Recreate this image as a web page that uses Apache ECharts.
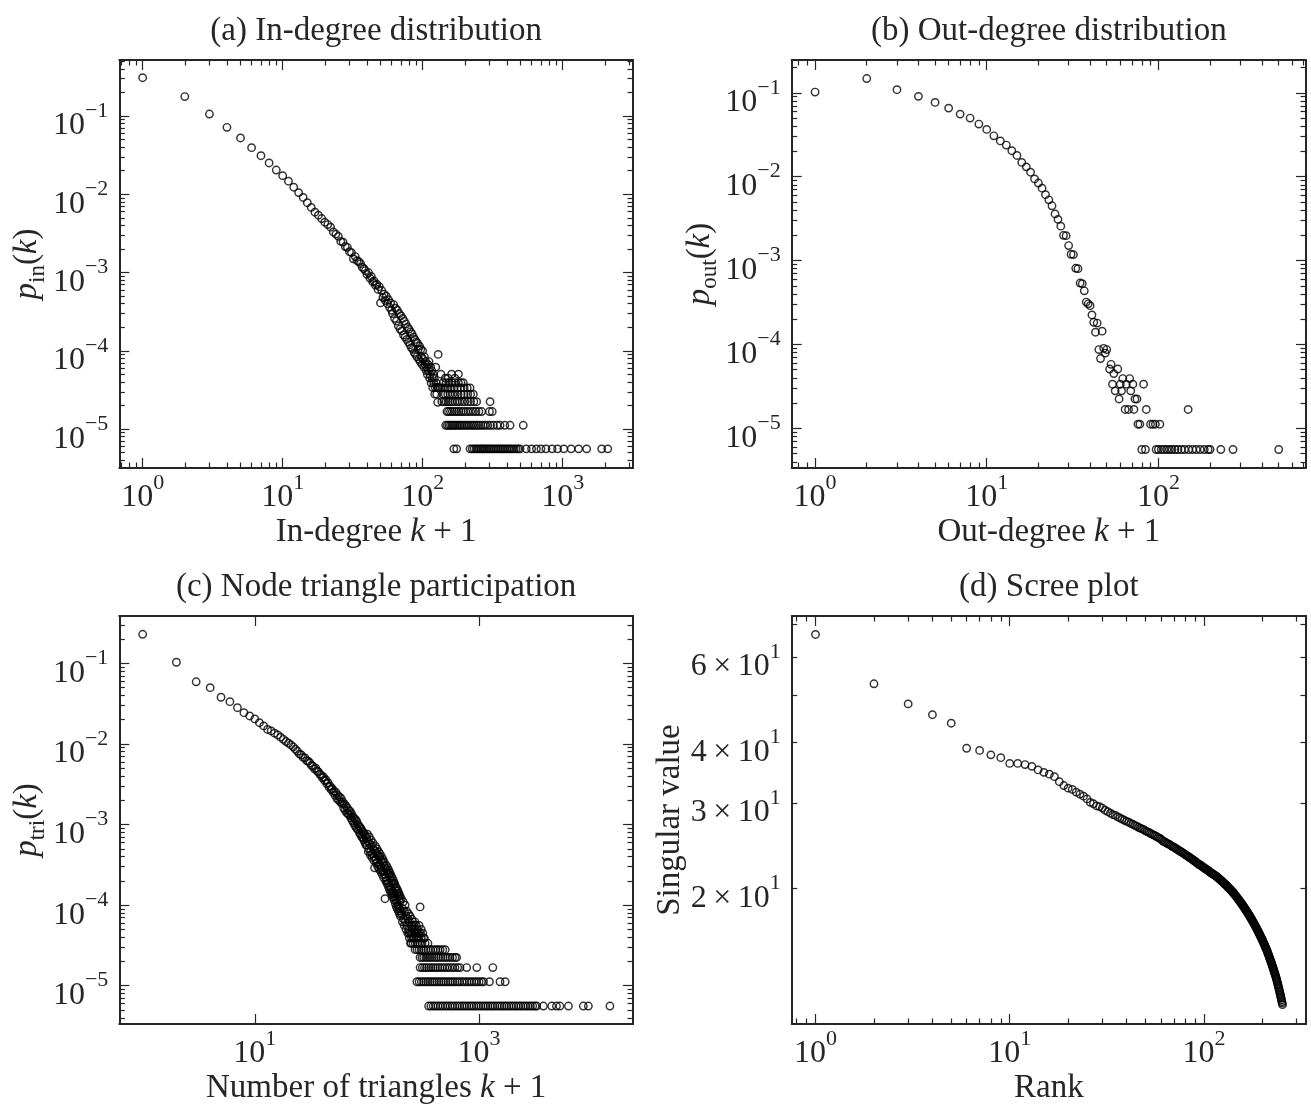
<!DOCTYPE html>
<html>
<head>
<meta charset="utf-8">
<title>Degree, triangle and scree plots</title>
<script src="https://cdn.jsdelivr.net/npm/echarts@6/dist/echarts.min.js"></script>
<style>
  html, body { margin: 0; padding: 0; background: #fff; }
  #chart { width: 1311px; height: 1110px; }
</style>
</head>
<body>
<div id="chart"></div>
<script>
// ---------- (a) in-degree distribution: p_in for k+1 = 1, 2, 3, ...
const inHeadP = [
  0.308, 0.177, 0.106, 0.0716, 0.0524, 0.0394, 0.0311, 0.0251, 0.0204, 0.0173,
  0.0147, 0.0123, 0.0105, 0.0091, 0.0078, 0.0068, 0.0059, 0.0054, 0.0049, 0.0044,
  0.0041, 0.0038, 0.0033, 0.0031, 0.0029, 0.0025, 0.00245, 0.00215, 0.0021, 0.00185,
  0.0018, 0.0015, 0.0016, 0.00142, 0.00138, 0.0013, 0.00117, 0.00112, 0.00106, 0.00095,
  0.001, 0.00085, 0.00089, 0.00076, 0.00078, 0.00069, 0.00071, 0.00061, 0.00066, 0.00041,
  0.00059, 0.00048, 0.00053, 0.00044, 0.0005, 0.0004, 0.00045, 0.00036, 0.00041, 0.00033,
  0.0003, 0.00039, 0.00026, 0.00035, 0.00024, 0.00033, 0.00021, 0.0003, 0.00019, 0.00028,
  0.00018, 0.00026, 0.00016, 0.00024, 0.00015, 0.00022, 0.00014, 0.0002, 0.00013, 0.00019,
  0.00012, 0.000175, 0.00011, 0.000165, 0.000105, 0.00015, 0.000095, 0.00014, 0.00009, 0.00013,
  0.000084, 0.000125, 0.000105, 0.000078, 0.000115, 0.000073, 0.000105, 0.000084, 0.000067, 0.0001,
  7.8e-5, 6.2e-5, 8.4e-5, 6.7e-5, 7.3e-5, 5.6e-5, 6.2e-5, 5.0e-5, 6.7e-5, 5.6e-5,
  7.3e-5, 4.5e-5, 5.0e-5, 6.2e-5, 3.9e-5, 5.6e-5, 4.5e-5, 3.4e-5, 5.0e-5, 3.9e-5,
  4.5e-5, 2.8e-5, 3.4e-5, 6.2e-5, 3.9e-5, 2.8e-5, 3.4e-5, 2.2e-5, 9.0e-5, 3.4e-5
];
// tail: the same few counts (1, 2, 3 ... nodes) repeat, so the points sit on levels
const inLevels = [5.6e-6, 1.12e-5, 1.68e-5, 2.24e-5, 2.8e-5, 3.36e-5, 3.92e-5, 4.48e-5, 5.04e-5];
const inLevelK = [
  [167, 175, 218, 226, 233, 241, 248, 255, 262, 268, 275, 282, 290, 298, 306, 315, 325, 335, 345, 355,
   365, 375, 385, 397, 410, 422, 435, 450, 465, 480, 496, 549, 600, 650, 700, 760, 840, 920, 1020,
   1150, 1300, 1484, 1900, 2100],
  [146, 150, 154, 158, 162, 166, 170, 175, 180, 185, 190, 196, 202, 208, 214, 221, 228, 235, 243, 251,
   260, 270, 280, 292, 305, 320, 340, 357, 386, 421, 523],
  [149, 153, 158, 163, 169, 175, 181, 188, 195, 203, 211, 220, 230, 240, 252, 264, 300, 314],
  [137, 142, 147, 152, 157, 163, 170, 177, 184, 192, 200, 210, 220, 232, 243, 303],
  [140, 145, 151, 157, 164, 171, 179, 188, 198, 210, 220, 230],
  [129, 134, 139, 145, 152, 160, 168, 177, 187, 198, 208, 218],
  [140, 147, 154, 162, 170, 180, 188, 195],
  [145, 152, 170],
  [135, 161, 180]
];

// ---------- (b) out-degree distribution
const outHeadP = [
  0.102, 0.148, 0.109, 0.0907, 0.0768, 0.0657, 0.0557, 0.050, 0.0424, 0.0366,
  0.0307, 0.0267, 0.0238, 0.0204, 0.0179, 0.0148, 0.0131, 0.0113, 0.0094, 0.0084,
  0.0073, 0.0061, 0.0053, 0.0045, 0.0036, 0.0031, 0.00257, 0.0020, 0.00198, 0.00151,
  0.00119, 0.00118, 0.00081, 0.0008, 0.00054, 0.00053, 0.000436, 0.00032, 0.000305, 0.00029,
  0.000225, 0.000184, 0.00014, 0.00018, 0.000087, 0.000068, 0.000144, 0.00009, 0.000079, 0.000087
];
const outMidK = [52, 53, 55, 58];
const outMidP = [5.1e-5, 5.8e-5, 4.5e-5, 5.1e-5];
const outLevels = [5.6e-6, 1.12e-5, 1.68e-5, 2.24e-5, 2.8e-5, 3.36e-5, 3.92e-5];
const outLevelK = [
  [80, 84, 97, 100, 104, 108, 112, 116, 120, 125, 130, 136, 142, 150, 158, 166, 175, 185, 195, 200, 231, 272, 502],
  [76, 78, 90, 93, 96, 102],
  [64, 67, 72, 85, 149],
  [59, 73, 75],
  [56, 61, 69],
  [54, 60, 65, 71, 82],
  [62, 68]
];

// ---------- (c) node triangle participation
const triHeadP = [
  0.229, 0.103, 0.059, 0.0498, 0.0379, 0.0334, 0.0281, 0.0244, 0.0222, 0.0204,
  0.0183, 0.0167, 0.0151, 0.0145, 0.0136, 0.0129, 0.0121, 0.0114, 0.0107, 0.0102,
  0.0097, 0.0092, 0.0086, 0.0081, 0.0075, 0.0073, 0.0068, 0.0067, 0.0062, 0.0061,
  0.0058, 0.0054, 0.0053, 0.0049, 0.0050, 0.0046, 0.0045, 0.0042, 0.0041, 0.0038,
  0.0039, 0.0035, 0.0036, 0.0032, 0.0033, 0.0029, 0.0030, 0.0027, 0.0028, 0.0025,
  0.0026, 0.0023, 0.0025, 0.0021, 0.0023, 0.0020, 0.0022, 0.0019, 0.0021, 0.0018,
  0.0019, 0.0016, 0.0018, 0.0015, 0.0017, 0.0014, 0.0016, 0.00135, 0.0015, 0.0013,
  0.00145, 0.0012, 0.00135, 0.00112, 0.00125, 0.00105, 0.0012, 0.00098, 0.00115, 0.00092,
  0.0011, 0.00088, 0.00101, 0.00085, 0.00096, 0.00078, 0.00092, 0.00075, 0.00088, 0.0007,
  0.00082, 0.00068, 0.0008, 0.00064, 0.00076, 0.0006, 0.00072, 0.00056, 0.00068, 0.00055
];
const triMidK = [
  102, 104, 106, 108, 110, 112, 114, 116, 117, 118, 120, 122, 124, 126, 128, 130, 132, 134, 136, 138,
  140, 142, 144, 145, 146, 148, 150, 152, 154, 156, 158, 160, 162, 164, 166, 168, 170, 172, 174, 176,
  178, 180, 182, 184, 186, 188, 190, 192, 194, 196, 198, 200, 204, 208, 212, 216, 220, 224, 228, 232,
  236, 240, 245, 250, 255, 260, 265, 270, 285, 290, 298,
  101, 103, 105, 107, 109, 111, 113, 115, 119, 121, 123, 125, 127, 129, 131, 133, 135, 137, 139, 141,
  143, 147, 149, 151, 153, 155, 157, 159, 161, 163, 165, 167, 169, 171, 173, 175, 177, 179, 181, 183,
  185, 187, 189, 191, 193, 195, 197, 199, 203, 207, 211, 215, 219, 223, 227, 231, 235, 239, 243, 247,
  251, 257, 263, 268, 275, 283, 292, 305, 315, 325
];
const triMidP = [
  6.2e-4, 5.0e-4, 5.8e-4, 4.6e-4, 5.5e-4, 4.3e-4, 5.0e-4, 4.0e-4, 2.9e-4, 4.7e-4,
  3.7e-4, 4.4e-4, 3.4e-4, 4.1e-4, 3.2e-4, 3.9e-4, 3.0e-4, 3.6e-4, 2.7e-4, 3.4e-4,
  2.6e-4, 3.1e-4, 2.4e-4, 1.2e-4, 2.9e-4, 2.2e-4, 2.7e-4, 2.0e-4, 2.5e-4, 1.9e-4,
  2.4e-4, 1.7e-4, 2.2e-4, 1.6e-4, 2.0e-4, 1.5e-4, 1.9e-4, 1.4e-4, 1.8e-4, 1.3e-4,
  1.6e-4, 1.2e-4, 1.5e-4, 1.1e-4, 1.4e-4, 1.0e-4, 1.3e-4, 9.5e-5, 1.2e-4, 9.0e-5,
  1.12e-4, 8.4e-5, 7.8e-5, 9.0e-5, 6.7e-5, 8.4e-5, 6.2e-5, 7.3e-5, 5.6e-5, 6.7e-5,
  5.0e-5, 6.2e-5, 4.5e-5, 5.6e-5, 5.0e-5, 3.9e-5, 4.5e-5, 5.0e-5, 3.9e-5, 4.5e-5, 9.5e-5,
  7.6e-4, 4.6e-4, 7.0e-4, 4.2e-4, 6.4e-4, 3.9e-4, 5.9e-4, 3.6e-4, 5.4e-4, 3.3e-4,
  5.0e-4, 3.0e-4, 4.6e-4, 2.8e-4, 4.3e-4, 2.6e-4, 4.0e-4, 2.4e-4, 3.7e-4, 2.2e-4,
  3.4e-4, 2.0e-4, 3.1e-4, 1.85e-4, 2.9e-4, 1.7e-4, 2.7e-4, 1.55e-4, 2.5e-4, 1.45e-4,
  2.3e-4, 1.35e-4, 2.15e-4, 1.25e-4, 2.0e-4, 1.15e-4, 1.85e-4, 1.05e-4, 1.7e-4, 9.5e-5,
  1.6e-4, 9.0e-5, 1.5e-4, 8.4e-5, 1.4e-4, 7.8e-5, 1.3e-4, 7.3e-5, 1.2e-4, 6.2e-5,
  1.1e-4, 5.6e-5, 1.0e-4, 5.0e-5, 8.4e-5, 4.5e-5, 7.8e-5, 3.9e-5, 7.3e-5, 3.4e-5,
  6.7e-5, 6.2e-5, 5.6e-5, 6.2e-5, 5.6e-5, 5.0e-5, 5.6e-5, 5.0e-5, 4.5e-5, 3.9e-5
];
const triLevels = [5.6e-6, 1.12e-5, 1.68e-5, 2.24e-5, 2.8e-5, 3.36e-5, 3.92e-5, 4.48e-5];
const triLevelK = [
  [355, 372, 390, 410, 430, 452, 475, 500, 525, 552, 580, 610, 640, 672, 705, 740, 778, 817, 858, 900,
   945, 992, 1040, 1090, 1145, 1200, 1260, 1320, 1385, 1455, 1530, 1600, 1680, 1760, 1850, 1940, 2040,
   2140, 2250, 2360, 2480, 2600, 2730, 2870, 3010, 3160, 3270, 3750, 4450, 4900, 5260, 6270, 8510, 9440, 14700],
  [279, 292, 306, 320, 335, 350, 366, 383, 400, 420, 440, 460, 482, 505, 530, 555, 582, 610, 640, 670,
   705, 740, 780, 820, 860, 905, 950, 1000, 1050, 1096, 1238, 1538, 1710],
  [298, 312, 326, 340, 356, 372, 390, 408, 428, 448, 470, 495, 520, 548, 578, 610, 645, 676, 776, 955, 1327],
  [298, 310, 322, 336, 350, 365, 380, 398, 415, 435, 455, 478, 500, 525, 550, 580, 610, 631],
  [269, 280, 292, 305, 320, 335, 352, 370, 390, 410, 430, 450, 475, 499],
  [245, 258, 270, 282, 295, 310, 330, 350],
  [250, 262, 275, 290, 305, 320],
  [238, 252, 266, 282, 300]
];

// ---------- (d) scree plot: singular value for rank 1, 2, 3, ...
const screeSV = [
  66.7, 52.8, 48.0, 45.6, 43.8, 38.9, 38.5, 37.7, 37.2, 36.2,
  36.2, 36.0, 35.7, 35.1, 34.7, 34.4, 34.0, 33.2, 32.6, 32.2,
  32.0, 31.6, 31.3, 31.0, 30.6, 30.1, 29.9, 29.6, 29.5, 29.3,
  29.0, 28.8, 28.6, 28.4, 28.3, 28.1, 27.95, 27.8, 27.65, 27.5,
  27.4, 27.25, 27.15, 27.0, 26.9, 26.75, 26.65, 26.55, 26.45, 26.3,
  26.2, 26.1, 26.0, 25.9, 25.8, 25.7, 25.6, 25.5, 25.4, 25.3,
  25.15, 25.0, 24.95, 24.85, 24.75, 24.7, 24.6, 24.5, 24.4, 24.35,
  24.25, 24.15, 24.1, 24.0, 23.9, 23.85, 23.75, 23.7, 23.6, 23.5,
  23.45, 23.35, 23.3, 23.2, 23.15, 23.05, 23.0, 22.9, 22.85, 22.75,
  22.7, 22.6, 22.55, 22.45, 22.4, 22.35, 22.3, 22.2, 22.15, 22.1,
  22.05, 21.95, 21.9, 21.85, 21.8, 21.75, 21.65, 21.6, 21.55, 21.5,
  21.45, 21.4, 21.35, 21.3, 21.25, 21.2, 21.14, 21.08, 21.02, 20.95,
  20.89, 20.83, 20.77, 20.71, 20.65, 20.58, 20.52, 20.46, 20.4, 20.34,
  20.28, 20.22, 20.15, 20.09, 20.03, 19.97, 19.91, 19.85, 19.78, 19.72,
  19.66, 19.6, 19.53, 19.46, 19.4, 19.33, 19.26, 19.19, 19.12, 19.06,
  18.99, 18.92, 18.85, 18.79, 18.72, 18.65, 18.58, 18.51, 18.45, 18.38,
  18.31, 18.24, 18.18, 18.11, 18.04, 17.97, 17.9, 17.84, 17.77, 17.7,
  17.63, 17.57, 17.5, 17.43, 17.36, 17.3, 17.23, 17.16, 17.09, 17.03,
  16.96, 16.89, 16.82, 16.76, 16.69, 16.62, 16.55, 16.49, 16.42, 16.35,
  16.28, 16.22, 16.15, 16.08, 16.01, 15.95, 15.88, 15.81, 15.74, 15.68,
  15.61, 15.54, 15.47, 15.41, 15.34, 15.27, 15.2, 15.14, 15.07, 15.0,
  14.93, 14.85, 14.78, 14.7, 14.63, 14.56, 14.48, 14.41, 14.33, 14.26,
  14.19, 14.11, 14.04, 13.96, 13.89, 13.82, 13.74, 13.67, 13.59, 13.52,
  13.44, 13.37, 13.3, 13.22, 13.15, 13.07, 13.0, 12.91, 12.83, 12.74,
  12.66, 12.57, 12.49, 12.4, 12.31, 12.23, 12.14, 12.06, 11.97, 11.89,
  11.8, 11.71, 11.63, 11.54
];

// axis limits [x, y] of each panel
const limA = [[0.681, 3180], [3.19e-6, 0.519]];
const limB = [[0.731, 724], [3.37e-6, 0.246]];
const limC = [[0.619, 23600], [3.35e-6, 0.386]];
const limD = [[0.754, 335.6], [10.53, 72.8]];

const titles = ['(a) In-degree distribution', '(b) Out-degree distribution',
                '(c) Node triangle participation', '(d) Scree plot'];

const FONT = '"Liberation Serif", "DejaVu Serif", serif';
const INK = '#262626';

const chart = echarts.init(document.getElementById('chart'));

const seq = ys => ys.map((y, i) => [i + 1, y]);
const pairs = (xs, ys) => xs.map((x, i) => [x, ys[i]]);
const levelPts = (levels, lists) => lists.flatMap((xs, j) => xs.map(x => [x, levels[j]]));

function logTicks(lim) {
  const major = [], minor = [];
  const e0 = Math.floor(Math.log10(lim[0])), e1 = Math.ceil(Math.log10(lim[1]));
  for (let e = e0; e <= e1; e++) {
    const p = Math.pow(10, e);
    if (p >= lim[0] && p <= lim[1]) major.push(p);
    for (let m = 2; m <= 9; m++) {
      const v = m * p;
      if (v >= lim[0] && v <= lim[1]) minor.push(v);
    }
  }
  return { major, minor };
}

const tickRich = {
  b: { fontFamily: FONT, fontSize: 32, lineHeight: 32, padding: [10, 0, 0, 0], verticalAlign: 'top', color: INK },
  s: { fontFamily: FONT, fontSize: 22, lineHeight: 22, verticalAlign: 'top', color: INK }
};
const nameRich = {
  n: { fontFamily: FONT, fontSize: 33, lineHeight: 33, verticalAlign: 'top', color: INK },
  i: { fontFamily: FONT, fontSize: 33, lineHeight: 33, fontStyle: 'italic', verticalAlign: 'top', color: INK },
  sub: { fontFamily: FONT, fontSize: 23, lineHeight: 23, padding: [15, 0, 0, 0], verticalAlign: 'top', color: INK }
};

const pow10 = v => {
  const e = Math.round(Math.log10(v));
  return '{b|10}{s|' + (e < 0 ? '\u2212' + (-e) : e) + '}';
};
const times10 = v => '{b|' + Math.round(v / 10) + '\u2009\u00d7\u200910}{s|1}';

// four axes per side pair: labelled main axis, opposite frame side, and two for the short minor ticks
function axes(gi, dim, lim, t, cfg) {
  const isX = dim === 'x';
  const pos = isX ? ['bottom', 'top'] : ['left', 'right'];
  const tick = (vals, len) => ({
    show: vals.length > 0, inside: true, length: len, customValues: vals,
    lineStyle: { color: INK, width: 1.2 }
  });
  const common = {
    type: 'log', logBase: 10, gridIndex: gi, min: lim[0], max: lim[1],
    splitLine: { show: false }, minorTick: { show: false }, axisPointer: { show: false }
  };
  const line = show => ({ show, onZero: false, lineStyle: { color: INK, width: 2 } });
  const off = { show: false };
  return [
    Object.assign({}, common, {
      position: pos[0], axisLine: line(true), axisTick: tick(t.major, 10),
      axisLabel: {
        show: true, customValues: cfg.labels || t.major, formatter: cfg.fmt || pow10,
        margin: isX ? 4 : 11, rich: tickRich, color: INK
      },
      name: cfg.name, nameLocation: 'middle', nameGap: cfg.gap,
      nameTextStyle: { rich: nameRich, color: INK }
    }),
    Object.assign({}, common, {
      position: pos[1], axisLine: line(true), axisTick: tick(t.major, 10), axisLabel: off,
      name: cfg.topName || '', nameLocation: 'middle', nameGap: 11,
      nameTextStyle: { fontFamily: FONT, fontSize: 33, lineHeight: 36, color: INK }
    }),
    Object.assign({}, common, { position: pos[0], axisLine: line(false), axisTick: tick(t.minor, 5.5), axisLabel: off }),
    Object.assign({}, common, { position: pos[1], axisLine: line(false), axisTick: tick(t.minor, 5.5), axisLabel: off })
  ];
}

const grids = [
  { left: 119.3, top: 60, width: 513.7, height: 408 },
  { left: 791.7, top: 60, width: 514.3, height: 408 },
  { left: 119.3, top: 616, width: 513.7, height: 408 },
  { left: 791.7, top: 616, width: 514.3, height: 408 }
].map(g => Object.assign({ outerBoundsMode: 'none', containLabel: false }, g));

const xAxes = [].concat(
  axes(0, 'x', limA[0], logTicks(limA[0]), { name: '{n|In-degree }{i|k}{n| + 1}', gap: 48, topName: titles[0] }),
  axes(1, 'x', limB[0], logTicks(limB[0]), { name: '{n|Out-degree }{i|k}{n| + 1}', gap: 48, topName: titles[1] }),
  axes(2, 'x', limC[0], { major: [10, 1000], minor: [] }, { name: '{n|Number of triangles }{i|k}{n| + 1}', gap: 48, topName: titles[2] }),
  axes(3, 'x', limD[0], logTicks(limD[0]), { name: '{n|Rank}', gap: 48, topName: titles[3] })
);
const yAxes = [].concat(
  axes(0, 'y', limA[1], logTicks(limA[1]), { name: '{i|p}{sub|in}{n|(}{i|k}{n|)}', gap: 64 }),
  axes(1, 'y', limB[1], logTicks(limB[1]), { name: '{i|p}{sub|out}{n|(}{i|k}{n|)}', gap: 64 }),
  axes(2, 'y', limC[1], logTicks(limC[1]), { name: '{i|p}{sub|tri}{n|(}{i|k}{n|)}', gap: 64 }),
  axes(3, 'y', limD[1], { major: [], minor: logTicks(limD[1]).minor },
       { name: '{n|Singular value}', gap: 101, labels: [20, 30, 40, 60], fmt: times10 })
);

function scatter(gi, data) {
  return {
    type: 'scatter', xAxisIndex: gi * 4, yAxisIndex: gi * 4, data,
    symbol: 'circle', symbolSize: 7.4, silent: true,
    itemStyle: { color: 'rgba(0,0,0,0)', borderColor: '#000', borderWidth: 1.45 }
  };
}

chart.setOption({
  animation: false,
  backgroundColor: '#fff',
  grid: grids,
  xAxis: xAxes,
  yAxis: yAxes,
  series: [
    scatter(0, seq(inHeadP).concat(levelPts(inLevels, inLevelK))),
    scatter(1, seq(outHeadP).concat(pairs(outMidK, outMidP), levelPts(outLevels, outLevelK))),
    scatter(2, seq(triHeadP).concat(pairs(triMidK, triMidP), levelPts(triLevels, triLevelK))),
    scatter(3, seq(screeSV))
  ]
});
</script>
</body>
</html>
